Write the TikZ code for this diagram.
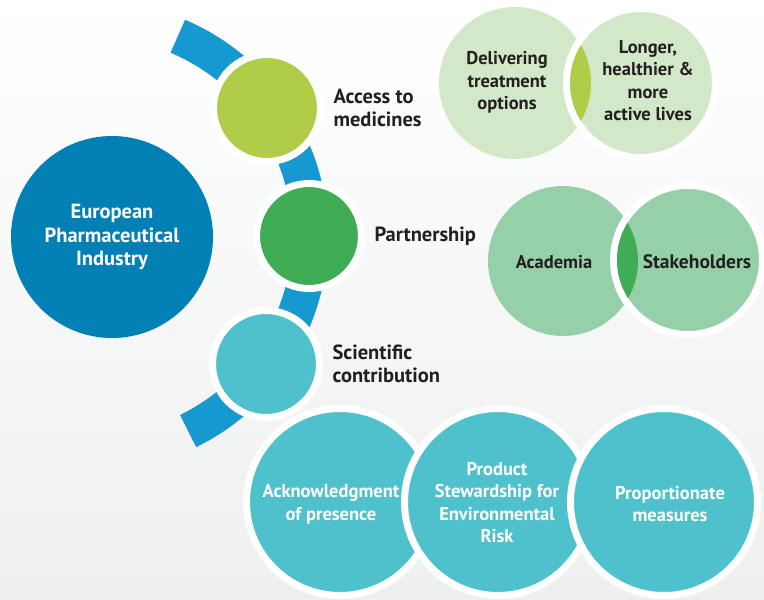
\documentclass[tikz,border=0pt]{standalone}
\usepackage{fontspec}
\setmainfont{PT Sans}

\definecolor{ink}{HTML}{231F20}
\definecolor{bandblue}{HTML}{1699D1}
\definecolor{deepblue}{HTML}{0080B5}
\definecolor{lime}{HTML}{B0CD4A}
\definecolor{leaf}{HTML}{40AD56}
\definecolor{teal}{HTML}{4FC1CD}
\definecolor{palelime}{HTML}{D3E8C8}
\definecolor{paleleaf}{HTML}{96D0A8}
\definecolor{bggray}{HTML}{EEEFEF}

\begin{document}
\begin{tikzpicture}[x=1pt, y=1pt,
  every node/.style = {font=\bfseries\fontsize{18.5}{22.5}\selectfont,
                       text=ink, align=center},
         hub/.style = {circle, fill=#1, inner sep=0pt, minimum size=202pt,
                       text=white, font=\bfseries\fontsize{20.5}{23.5}\selectfont},
        ball/.style = {circle, fill=#1, draw=white, line width=7pt,
                       inner sep=0pt, minimum size=107pt},
        venn/.style = {circle, fill=#1, inner sep=0pt},
        ring/.style = {draw=white, line width=7pt},
         tag/.style = {align=left, font=\bfseries\fontsize{20.5}{23.5}\selectfont},
      label distance = 6pt
                        ]
\useasboundingbox (0,0) rectangle (764,-600);
\shade[top color=white, bottom color=bggray] (0,0) rectangle (764,-600);

% band behind the three steps
\coordinate (pivot) at (93,-236);
\draw[bandblue, line width=36pt] (pivot) ++(67:217)
      arc[start angle=67, end angle=-64, radius=217];

\node (epi) at (112,-237) [hub=deepblue] {European\\Pharmaceutical\\Industry};

\node (acc) at (267,-108) [ball=lime,
      label={[tag]right:Access to\\medicines}] {};
\node (prt) at (309,-236) [ball=leaf, minimum size=105pt,
      label={[tag]right:Partnership}] {};
\node (sci) at (266,-364) [ball=teal,
      label={[tag]right:Scientific\\contribution}] {};

% access to medicines
\node (dlv) at (515,-83) [venn=palelime, minimum size=152pt] {};
\node (lng) at (641,-83) [venn=palelime, ring, minimum size=149pt] {};
\begin{scope}
  \clip (dlv.center) circle[radius=76];
  \fill[lime] (lng.center) circle[radius=71];
\end{scope}
\node (t_dlv) at (507,-82.5) {Delivering\\treatment\\options};
\node (t_lng) at (648,-80.5) {Longer,\\healthier \&\\more\\active lives};

% partnership
\node (aca) at (563,-261) [venn=paleleaf, minimum size=150pt] {};
\node (stk) at (688,-260) [venn=paleleaf, ring, minimum size=149pt] {};
\begin{scope}
  \clip (aca.center) circle[radius=75];
  \fill[leaf] (stk.center) circle[radius=71];
\end{scope}
\node (t_aca) at (554,-262) {Academia};
\node (t_stk) at (697,-262) [font=\bfseries\fontsize{19.5}{22.5}\selectfont] {Stakeholders};

% scientific contribution
\node (ack) at (340,-502) [venn=teal, ring, minimum size=187pt] {};
\node (pse) at (498,-502) [venn=teal, ring, minimum size=187pt] {};
\node (pro) at (664,-502) [venn=teal, ring, minimum size=187pt] {};
\node (t_ack) at (331,-504.5) [text=white] {Acknowledgment\\of presence};
\node (t_pse) at (497,-502.5) [text=white] {Product\\Stewardship for\\Environmental\\Risk};
\node (t_pro) at (670,-504) [text=white] {Proportionate\\measures};
\end{tikzpicture}
\end{document}
